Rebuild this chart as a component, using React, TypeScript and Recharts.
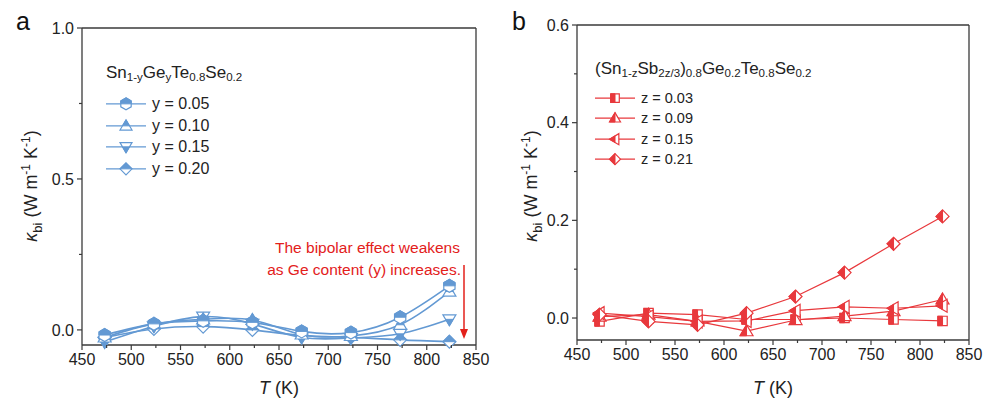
import { Legend, Line, LineChart, ReferenceLine, XAxis, YAxis } from "recharts";

const temps = [473, 523, 573, 623, 673, 723, 773, 823];

// panel a: Sn1-yGeyTe0.8Se0.2
const kbiY05 = [-0.017, 0.02, 0.03, 0.025, -0.005, -0.009, 0.042, 0.146];
const kbiY10 = [-0.025, 0.02, 0.035, 0.033, -0.015, -0.02, 0.017, 0.127];
const kbiY15 = [-0.04, 0.012, 0.044, 0.02, -0.025, -0.027, -0.013, 0.035];
const kbiY20 = [-0.025, 0.003, 0.011, 0.0, -0.018, -0.025, -0.033, -0.039];

// panel b: (Sn1-zSb2z/3)0.8Ge0.2Te0.8Se0.2
const kbiZ03 = [-0.007, 0.01, 0.007, -0.003, -0.003, 0.0, -0.003, -0.006];
const kbiZ09 = [0.003, 0.007, -0.007, -0.027, -0.004, 0.004, 0.014, 0.038];
const kbiZ15 = [0.01, 0.003, -0.007, -0.006, 0.015, 0.023, 0.02, 0.025];
const kbiZ21 = [0.007, -0.007, -0.014, 0.01, 0.044, 0.093, 0.152, 0.208];

const xTicks = [450, 475, 500, 525, 550, 575, 600, 625, 650, 675, 700, 725, 750, 775, 800, 825, 850];
const yTicksA = [0, 0.25, 0.5, 0.75, 1.0];
const yTicksB = [0, 0.1, 0.2, 0.3, 0.4, 0.5, 0.6];

const BLUE = "#6399d3";
const RED = "#e8383c";
const AXIS = "#3a3a3a";
const FONT = "'Liberation Sans', Arial, sans-serif";

const dataA = temps.map((t, i) => ({ t, y05: kbiY05[i], y10: kbiY10[i], y15: kbiY15[i], y20: kbiY20[i] }));
const dataB = temps.map((t, i) => ({ t, z03: kbiZ03[i], z09: kbiZ09[i], z15: kbiZ15[i], z21: kbiZ21[i] }));

type Kind = "hex" | "triUp" | "triDown" | "diamond" | "squareL" | "triUpL" | "triLeftL" | "diamondL";

function shapePts(kind: Kind, r: number): [number[][], number[][]] {
  switch (kind) {
    case "hex": {
      const a = 0.866 * r;
      return [
        [[0, -r], [a, -r / 2], [a, r / 2], [0, r], [-a, r / 2], [-a, -r / 2]],
        [[-a, -r / 2], [0, -r], [a, -r / 2], [a, 0], [-a, 0]],
      ];
    }
    case "triUp":
      return [
        [[0, -r], [r, 0.7 * r], [-r, 0.7 * r]],
        [[0, -r], [0.59 * r, 0], [-0.59 * r, 0]],
      ];
    case "triDown":
      return [
        [[-r, -0.7 * r], [r, -0.7 * r], [0, r]],
        [[-0.59 * r, 0], [0.59 * r, 0], [0, r]],
      ];
    case "diamond":
      return [
        [[0, -r], [r, 0], [0, r], [-r, 0]],
        [[-r, 0], [0, -r], [r, 0]],
      ];
    case "squareL": {
      const s = 0.78 * r;
      return [
        [[-s, -s], [s, -s], [s, s], [-s, s]],
        [[-s, -s], [0, -s], [0, s], [-s, s]],
      ];
    }
    case "triUpL":
      return [
        [[0, -r], [r, 0.7 * r], [-r, 0.7 * r]],
        [[0, -r], [0, 0.7 * r], [-r, 0.7 * r]],
      ];
    case "triLeftL":
      return [
        [[-r, 0], [0.7 * r, -r], [0.7 * r, r]],
        [[-r, 0], [0, -0.59 * r], [0, 0.59 * r]],
      ];
    case "diamondL":
      return [
        [[0, -r], [r, 0], [0, r], [-r, 0]],
        [[0, -r], [0, r], [-r, 0]],
      ];
  }
}

function Marker({ cx, cy, kind, color, r }: { cx: number; cy: number; kind: Kind; color: string; r: number }) {
  const [full, half] = shapePts(kind, r);
  const pts = (p: number[][]) => p.map(([x, y]) => `${cx + x},${cy + y}`).join(" ");
  return (
    <g>
      <polygon points={pts(full)} fill="#fff" stroke={color} strokeWidth={1.2} />
      <polygon points={pts(half)} fill={color} stroke={color} strokeWidth={1} strokeLinejoin="round" />
    </g>
  );
}

const dotFor = (kind: Kind, color: string, r: number) => (p: any) =>
  <Marker key={`d-${kind}-${p.index}`} cx={p.cx} cy={p.cy} kind={kind} color={color} r={r} />;

function XTick({ x, y, payload }: any) {
  const v = payload.value as number;
  const major = v % 50 === 0;
  return (
    <g>
      <line x1={x} x2={x} y1={y} y2={y + (major ? 5 : 3)} stroke={AXIS} strokeWidth={1.2} />
      {major && (
        <text x={x} y={y + 9} dy="0.71em" textAnchor="middle" fontSize={16} fill="#222" fontFamily={FONT}>
          {v}
        </text>
      )}
    </g>
  );
}

const makeYTick = (majors: number[]) => ({ x, y, payload }: any) => {
  const v = payload.value as number;
  const major = majors.some((m) => Math.abs(m - v) < 1e-6);
  return (
    <g>
      <line x1={x} x2={x - (major ? 5 : 3)} y1={y} y2={y} stroke={AXIS} strokeWidth={1.2} />
      {major && (
        <text x={x - 8} y={y} dy="0.36em" textAnchor="end" fontSize={16} fill="#222" fontFamily={FONT}>
          {v.toFixed(1)}
        </text>
      )}
    </g>
  );
};

const YTickA = makeYTick([0, 0.5, 1.0]);
const YTickB = makeYTick([0, 0.2, 0.4, 0.6]);

interface LegendItem {
  label: string;
  kind: Kind;
}

function LegendBox({ title, items, color, fontSize, rowH, r, gap }: { title: any; items: LegendItem[]; color: string; fontSize: number; rowH: number; r: number; gap: number }) {
  return (
    <div style={{ fontFamily: FONT, color: "#222", textAlign: "left", lineHeight: 1 }}>
      <div style={{ fontSize: 17, marginBottom: gap, whiteSpace: "nowrap" }}>{title}</div>
      {items.map((it) => (
        <div key={it.label} style={{ display: "flex", alignItems: "center", height: rowH, fontSize }}>
          <svg width={42} height={rowH} style={{ marginRight: 4 }}>
            <line x1={0} x2={40} y1={rowH / 2} y2={rowH / 2} stroke={color} strokeWidth={1.4} />
            <Marker cx={20} cy={rowH / 2} kind={it.kind} color={color} r={r} />
          </svg>
          <span>{it.label}</span>
        </div>
      ))}
    </div>
  );
}

const subStyle = { fontSize: "0.68em", verticalAlign: "-0.3em" };

const titleA = (
  <span>
    Sn<span style={subStyle}>1-y</span>Ge<span style={subStyle}>y</span>Te<span style={subStyle}>0.8</span>Se<span style={subStyle}>0.2</span>
  </span>
);
const titleB = (
  <span>
    (Sn<span style={subStyle}>1-z</span>Sb<span style={subStyle}>2z/3</span>)<span style={subStyle}>0.8</span>Ge<span style={subStyle}>0.2</span>Te<span style={subStyle}>0.8</span>Se<span style={subStyle}>0.2</span>
  </span>
);

const legendA: LegendItem[] = [
  { label: "y = 0.05", kind: "hex" },
  { label: "y = 0.10", kind: "triUp" },
  { label: "y = 0.15", kind: "triDown" },
  { label: "y = 0.20", kind: "diamond" },
];
const legendB: LegendItem[] = [
  { label: "z = 0.03", kind: "squareL" },
  { label: "z = 0.09", kind: "triUpL" },
  { label: "z = 0.15", kind: "triLeftL" },
  { label: "z = 0.21", kind: "diamondL" },
];

function YTitle({ x, y }: { x: number; y: number }) {
  return (
    <text transform={`translate(${x},${y}) rotate(-90)`} textAnchor="middle" fontSize={18} fill="#222" fontFamily={FONT}>
      <tspan fontStyle="italic">κ</tspan>
      <tspan fontSize={13} dy={5}>bi</tspan>
      <tspan dy={-5}> (W m</tspan>
      <tspan fontSize={12} dy={-7}>-1</tspan>
      <tspan dy={7}> K</tspan>
      <tspan fontSize={12} dy={-7}>-1</tspan>
      <tspan dy={7}>)</tspan>
    </text>
  );
}

function XTitle({ x, y }: { x: number; y: number }) {
  return (
    <text x={x} y={y} textAnchor="middle" fontSize={18} fill="#222" fontFamily={FONT}>
      <tspan fontStyle="italic">T</tspan> (K)
    </text>
  );
}

const overlay: any = { position: "absolute", left: 0, top: 0, pointerEvents: "none" };

export default function App() {
  return (
    <div style={{ position: "absolute", left: 0, top: 0, width: 987, height: 407, background: "#fff" }}>
      {/* panel a */}
      <div style={{ position: "absolute", left: 0, top: 0, width: 493, height: 407 }}>
        <LineChart width={493} height={407} data={dataA} margin={{ top: 28, right: 17, bottom: 22, left: 0 }}>
          <XAxis
            dataKey="t"
            type="number"
            domain={[450, 850]}
            ticks={xTicks}
            interval={0}
            tickSize={0}
            tickMargin={0}
            tick={<XTick />}
            height={40}
            stroke={AXIS}
            strokeWidth={1.3}
          />
          <YAxis
            type="number"
            domain={[-0.05, 1.0]}
            ticks={yTicksA}
            interval={0}
            tickSize={0}
            tickMargin={0}
            tick={<YTickA />}
            width={82}
            stroke={AXIS}
            strokeWidth={1.3}
          />
          <ReferenceLine y={1.0} stroke={AXIS} strokeWidth={1.3} />
          <ReferenceLine x={850} stroke={AXIS} strokeWidth={1.3} />
          <Legend
            layout="vertical"
            align="center"
            verticalAlign="middle"
            wrapperStyle={{ top: 64, left: 106, width: 200 }}
            content={() => <LegendBox title={titleA} items={legendA} color={BLUE} fontSize={16} rowH={21.7} r={6} gap={9} />}
          />
          <Line type="natural" dataKey="y20" stroke={BLUE} strokeWidth={1.6} dot={dotFor("diamond", BLUE, 6.5)} isAnimationActive={false} />
          <Line type="natural" dataKey="y15" stroke={BLUE} strokeWidth={1.6} dot={dotFor("triDown", BLUE, 6.5)} isAnimationActive={false} />
          <Line type="natural" dataKey="y10" stroke={BLUE} strokeWidth={1.6} dot={dotFor("triUp", BLUE, 6.5)} isAnimationActive={false} />
          <Line type="natural" dataKey="y05" stroke={BLUE} strokeWidth={1.6} dot={dotFor("hex", BLUE, 6.5)} isAnimationActive={false} />
        </LineChart>
        <svg width={493} height={407} style={overlay}>
          <text x={16} y={30} fontSize={25} fill="#111" fontFamily={FONT}>a</text>
          <YTitle x={37} y={186} />
          <XTitle x={279} y={394} />
          <text x={460} y={253} textAnchor="end" fontSize={15.5} fill="#e3201b" fontFamily={FONT}>The bipolar effect weakens</text>
          <text x={461} y={275} textAnchor="end" fontSize={15.5} fill="#e3201b" fontFamily={FONT}>as Ge content (y) increases.</text>
          <line x1={464} x2={464} y1={265} y2={330} stroke="#e3201b" strokeWidth={1.5} />
          <polygon points="460,329 468,329 464,339" fill="#e3201b" />
        </svg>
      </div>

      {/* panel b */}
      <div style={{ position: "absolute", left: 494, top: 0, width: 493, height: 407 }}>
        <LineChart width={493} height={407} data={dataB} margin={{ top: 25, right: 18, bottom: 27, left: 0 }}>
          <XAxis
            dataKey="t"
            type="number"
            domain={[450, 850]}
            ticks={xTicks}
            interval={0}
            tickSize={0}
            tickMargin={0}
            tick={<XTick />}
            height={40}
            stroke={AXIS}
            strokeWidth={1.3}
          />
          <YAxis
            type="number"
            domain={[-0.045, 0.6]}
            ticks={yTicksB}
            interval={0}
            tickSize={0}
            tickMargin={0}
            tick={<YTickB />}
            width={83}
            stroke={AXIS}
            strokeWidth={1.3}
          />
          <ReferenceLine y={0.6} stroke={AXIS} strokeWidth={1.3} />
          <ReferenceLine x={850} stroke={AXIS} strokeWidth={1.3} />
          <Legend
            layout="vertical"
            align="center"
            verticalAlign="middle"
            wrapperStyle={{ top: 60, left: 101, width: 260 }}
            content={() => <LegendBox title={titleB} items={legendB} color={RED} fontSize={14.5} rowH={20.3} r={5.5} gap={8} />}
          />
          <Line type="linear" dataKey="z03" stroke={RED} strokeWidth={1.2} dot={dotFor("squareL", RED, 6)} isAnimationActive={false} />
          <Line type="linear" dataKey="z09" stroke={RED} strokeWidth={1.2} dot={dotFor("triUpL", RED, 6.5)} isAnimationActive={false} />
          <Line type="linear" dataKey="z15" stroke={RED} strokeWidth={1.2} dot={dotFor("triLeftL", RED, 6.5)} isAnimationActive={false} />
          <Line type="linear" dataKey="z21" stroke={RED} strokeWidth={1.2} dot={dotFor("diamondL", RED, 6.5)} isAnimationActive={false} />
        </LineChart>
        <svg width={493} height={407} style={overlay}>
          <text x={18} y={30} fontSize={25} fill="#111" fontFamily={FONT}>b</text>
          <YTitle x={43} y={186} />
          <XTitle x={279} y={394} />
        </svg>
      </div>
    </div>
  );
}
